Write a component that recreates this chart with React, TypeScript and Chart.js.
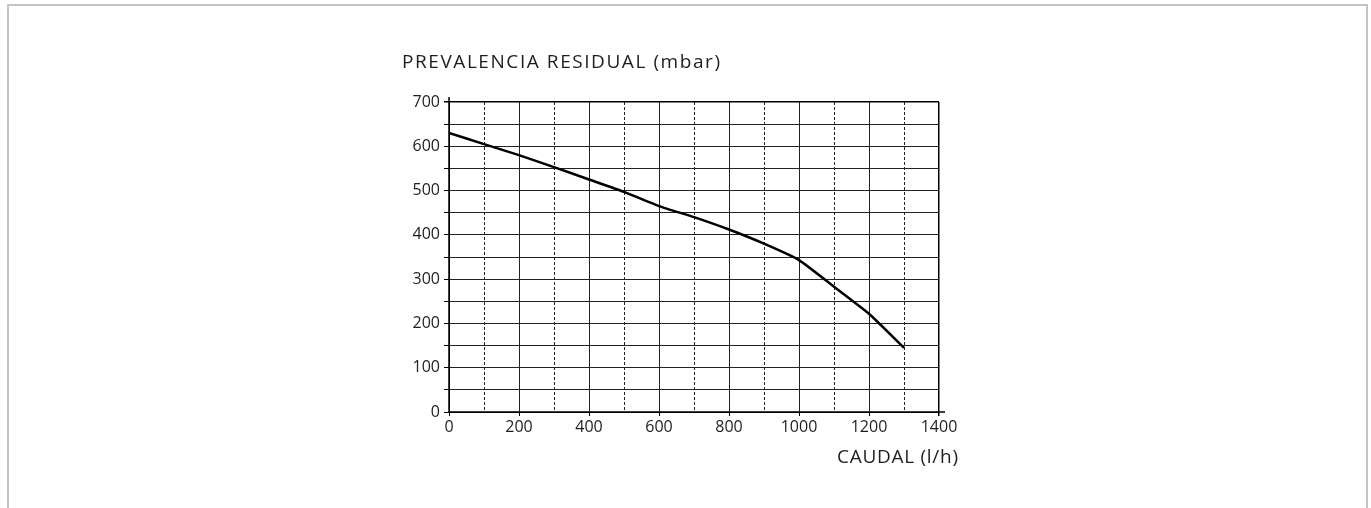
import React, { useEffect, useRef } from "react";
import { Chart, registerables } from "chart.js";

Chart.register(...registerables);

const flowValues = [0, 100, 200, 300, 400, 500, 600, 700, 800, 900, 1000, 1100, 1200, 1300];
const headValues = [630, 605, 580, 553, 525, 497, 465, 440, 412, 380, 343, 283, 222, 145];
const xTickLabels = ["0", "200", "400", "600", "800", "1000", "1200", "1400"];
const yTickLabels = ["0", "100", "200", "300", "400", "500", "600", "700"];
const yTitle = "PREVALENCIA RESIDUAL (mbar)";
const xTitle = "CAUDAL (l/h)";

const FONT = "'Open Sans', sans-serif";

function drawSpaced(ctx: any, text: string, x: number, y: number, targetWidth: number, align: "left" | "right") {
  ctx.letterSpacing = "0px";
  const w = ctx.measureText(text).width;
  const n = Math.max(text.length - 1, 1);
  const ls = Math.max(0, (targetWidth - w) / n);
  ctx.letterSpacing = `${ls}px`;
  ctx.textAlign = "left";
  const startX = align === "left" ? x : x - (w + ls * n);
  ctx.fillText(text, startX, y);
  ctx.letterSpacing = "0px";
}

export default function App() {
  const ref = useRef<HTMLCanvasElement | null>(null);

  useEffect(() => {
    if (!ref.current) return;
    const titlePlugin = {
      id: "axisTitles",
      afterDraw(chart: any) {
        const { ctx, chartArea } = chart;
        ctx.save();
        ctx.strokeStyle = "#000";
        ctx.lineWidth = 1.5;
        ctx.beginPath();
        ctx.moveTo(chartArea.left, chartArea.top - 5);
        ctx.lineTo(chartArea.left, chartArea.bottom);
        ctx.lineTo(chartArea.right + 6, chartArea.bottom);
        ctx.stroke();
        ctx.fillStyle = "#1e1e1e";
        ctx.font = `19px ${FONT}`;
        ctx.textBaseline = "middle";
        drawSpaced(ctx, yTitle, chartArea.left - 47, chartArea.top - 39, 318, "left");
        drawSpaced(ctx, xTitle, chartArea.right + 19, chartArea.bottom + 46, 121, "right");
        ctx.restore();
      },
    };

    const chart = new Chart(ref.current, {
      type: "line",
      data: {
        labels: flowValues,
        datasets: [
          {
            data: flowValues.map((x, i) => ({ x, y: headValues[i] })),
            borderColor: "#000",
            borderWidth: 2.5,
            pointRadius: 0,
            tension: 0.15,
            fill: false,
            xAxisID: "x",
          },
        ],
      },
      options: {
        animation: false,
        responsive: false,
        maintainAspectRatio: false,
        layout: { padding: { left: 389, right: 432, top: 102, bottom: 56 } },
        plugins: { legend: { display: false }, tooltip: { enabled: false } },
        scales: {
          x: {
            type: "linear",
            position: "bottom",
            min: 0,
            max: 1400,
            afterFit: (s: any) => {
              s.height = 40;
            },
            afterBuildTicks: (s: any) => {
              s.ticks = xTickLabels.map((l) => ({ value: Number(l) }));
            },
            ticks: {
              color: "#1e1e1e",
              font: { family: FONT, size: 16 },
              padding: 2,
              maxRotation: 0,
              autoSkip: false,
              callback: (v: any) => String(v),
            },
            grid: {
              color: (c: any) => (c.tick && (c.tick.value === 1400 || c.tick.value === 0) ? "#000" : "#222"),
              lineWidth: (c: any) => (c.tick && c.tick.value === 1400 ? 1.5 : 1),
              tickLength: 4,
              tickColor: "#000",
            },
            border: { display: false },
          },
          x2: {
            type: "linear",
            position: "bottom",
            min: 0,
            max: 1400,
            afterFit: (s: any) => {
              s.height = 0;
            },
            ticks: { display: false, stepSize: 100 },
            grid: {
              color: (c: any) => (c.tick && c.tick.value % 200 !== 0 ? "#222" : "rgba(0,0,0,0)"),
              lineWidth: 1,
              drawTicks: false,
            },
            border: { display: false, dash: [3, 2] },
          },
          y: {
            type: "linear",
            min: 0,
            max: 700,
            afterFit: (s: any) => {
              s.width = 60;
            },
            afterBuildTicks: (s: any) => {
              const t: any[] = [];
              for (let v = 0; v <= 700; v += 50) t.push({ value: v });
              s.ticks = t;
            },
            ticks: {
              color: "#1e1e1e",
              font: { family: FONT, size: 16 },
              padding: 4,
              autoSkip: false,
              callback: (v: any) => (yTickLabels.includes(String(v)) ? String(v) : ""),
            },
            grid: {
              color: (c: any) => (c.tick && (c.tick.value === 700 || c.tick.value === 0) ? "#000" : "#222"),
              lineWidth: (c: any) => (c.tick && c.tick.value === 700 ? 1.5 : 1),
              tickLength: 5,
              tickColor: "#000",
            },
            border: { display: false },
          },
        },
      },
      plugins: [titlePlugin],
    });
    return () => chart.destroy();
  }, []);

  return (
    <div style={{ position: "relative", width: 1371, height: 508 }}>
      <div
        style={{
          position: "fixed",
          left: 7,
          top: 4,
          width: 1361,
          height: 700,
          border: "2px solid #c4c4c4",
          boxSizing: "border-box",
        }}
      />
      <canvas
        ref={ref}
        width={1371}
        height={508}
        style={{ position: "fixed", left: 0, top: 0, width: 1371, height: 508 }}
      />
    </div>
  );
}
